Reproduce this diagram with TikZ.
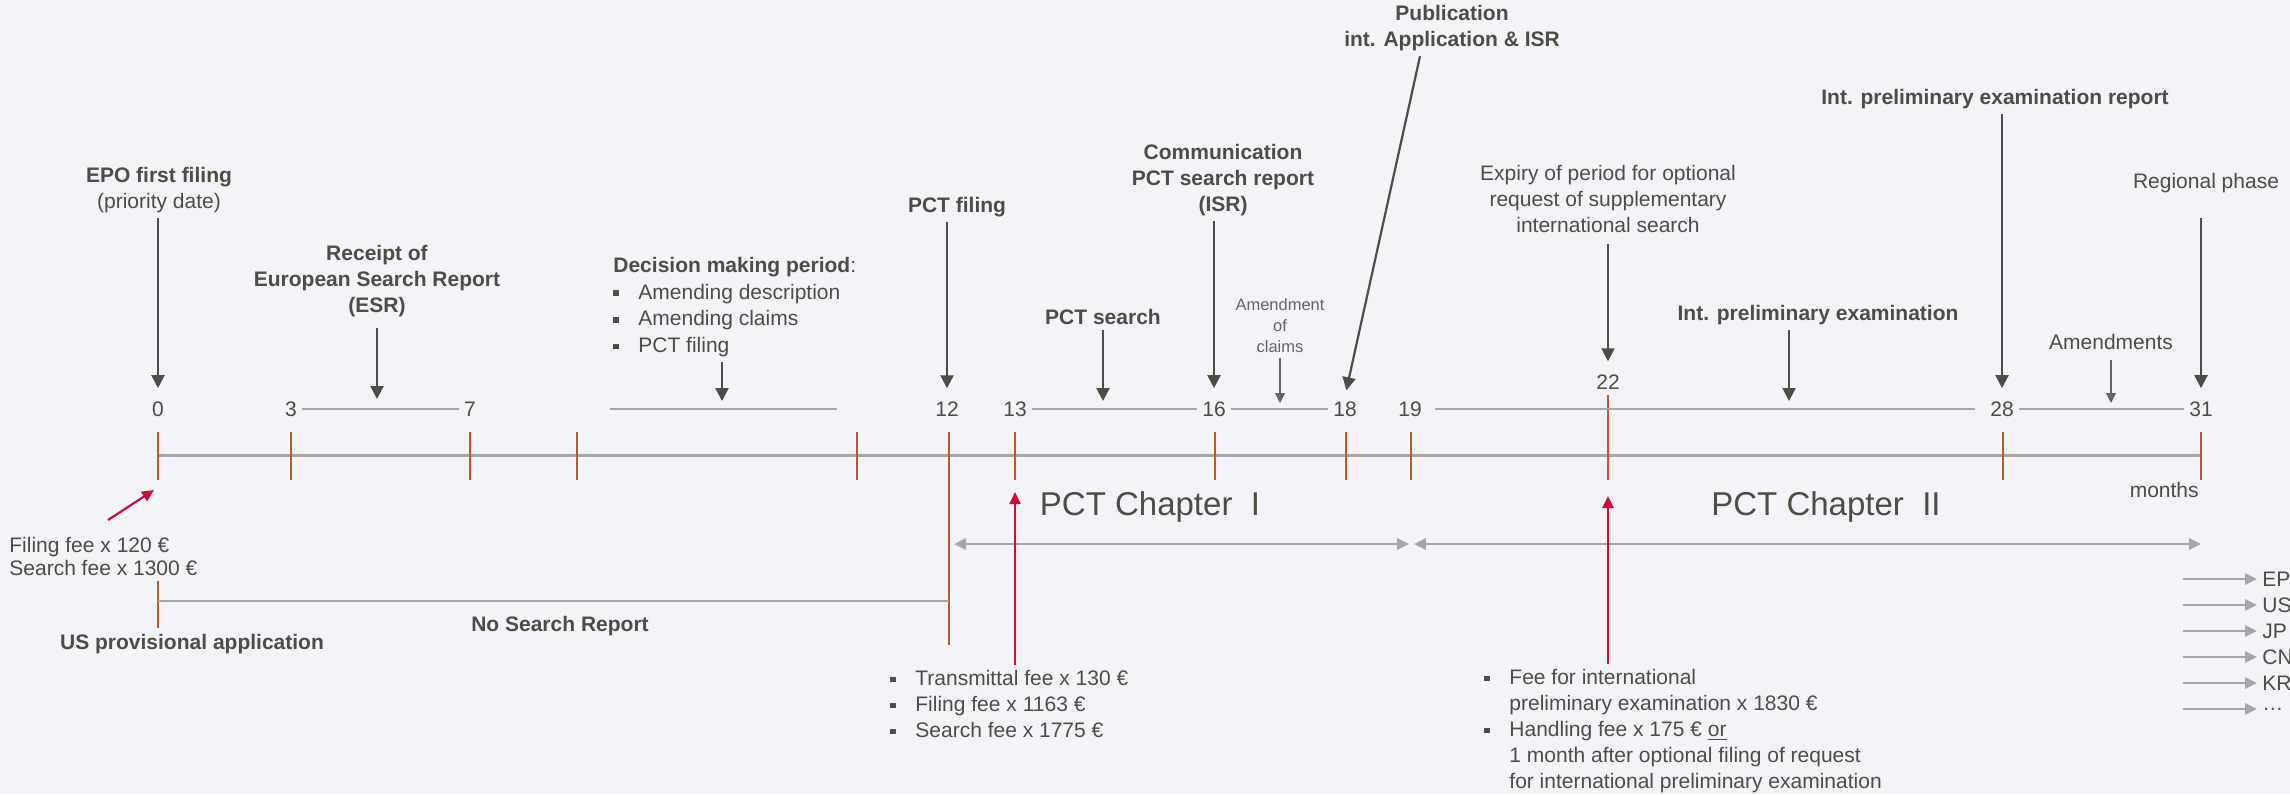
\documentclass[tikz,border=0pt]{standalone}
\usepackage{fontspec}
\setmainfont{Liberation Sans}
\usetikzlibrary{arrows.meta}
\definecolor{bgc}{HTML}{F3F4F8}
\definecolor{txtc}{HTML}{4F4B45}
\definecolor{lightc}{HTML}{646464}
\definecolor{linec}{HTML}{A6A6A6}
\definecolor{tickc}{HTML}{C0592A}
\definecolor{feec}{HTML}{D20A3C}
\newcommand{\sq}{\rule[1.6pt]{2.8pt}{2.8pt}\hspace{9.7pt}}
\newcommand{\ind}{\hspace*{12.5pt}}
\tikzset{
  axisln/.style={linec, line width=1.5pt},
  mtick/.style={tickc, line width=0.9pt},
  period/.style={linec, line width=1.3pt},
  evt/.style={txtc, line width=1.1pt, -{Triangle[length=6.5pt,width=6.5pt]}},
  evtsm/.style={lightc, line width=0.6pt, -{Triangle[length=5pt,width=5pt]}},
  feearr/.style={feec, line width=1.1pt, -{Triangle[length=6pt,width=5.5pt]}},
  chap/.style={linec, line width=1.4pt, {Triangle[length=6pt,width=5.5pt]}-{Triangle[length=6pt,width=5.5pt]}},
  ctry/.style={linec, line width=1.4pt, -{Triangle[length=6pt,width=5.5pt]}},
  txt/.style={text=txtc, font=\fontsize{10.5}{13}\selectfont, inner sep=2.5pt},
  lbl/.style={txt, font=\fontsize{10.5}{13}\selectfont\bfseries, align=center},
  num/.style={txt},
  small/.style={text=lightc, font=\fontsize{8.25}{10.5}\selectfont, align=center, inner sep=2.5pt},
}
\begin{document}
\begin{tikzpicture}[x=0.5pt,y=-0.5pt]
\useasboundingbox (0,0) rectangle (2290,794);
\fill[bgc] (0,0) rectangle (2290,794);
\clip (0,0) rectangle (2290,794);
% time line
\coordinate (a0) at (158,455);
\coordinate (a12) at (949,455);
\coordinate (a13) at (1015,455);
\coordinate (a19) at (1411,455);
\coordinate (a22) at (1608,455);
\coordinate (a31) at (2201,455);
\draw[axisln] (a0) -- (a31);
\draw[mtick] (158,432) -- (158,480) (291,432) -- (291,480) (470,432) -- (470,480)
  (577,432) -- (577,480) (857,432) -- (857,480) (949,432) -- (949,645)
  (1015,432) -- (1015,480) (1215,432) -- (1215,480) (1346,432) -- (1346,480)
  (1411,432) -- (1411,480) (1608,395) -- (1608,480) (2003,432) -- (2003,480)
  (2201,432) -- (2201,480);
%
\node[num] (n0) at (158,409) {0};
\node[num] (n3) at (291,409) {3};
\node[num] (n7) at (470,409) {7};
\node[num] (n12) at (947,409) {12};
\node[num] (n13) at (1015,409) {13};
\node[num] (n16) at (1214,409) {16};
\node[num] (n18) at (1345,409) {18};
\node[num] (n19) at (1410,409) {19};
\node[num] (n22) at (1608,382) {22};
\node[num] (n28) at (2002,409) {28};
\node[num] (n31) at (2201,409) {31};
\draw[period] (n3.east) -- (n7.west);
\draw[period] (n13.east) -- (n16.west);
\draw[period] (n16.east) -- (n18.west);
\draw[period, shorten <=4pt, shorten >=5pt] (n19.east) -- (n28.west);
\draw[period] (n28.east) -- (n31.west);
\coordinate (d1) at (610,409);
\coordinate (d2) at (837,409);
\draw[period] (d1) -- (d2); % decision period
%
\node[lbl] (epo) at (159,190) {EPO first filing\\{\mdseries (priority date)}};
\draw[evt, shorten >=4pt] (epo.south -| n0) -- (n0.north);
\node[lbl] (esr) at (377,281) {Receipt of\\European Search Report\\(ESR)};
\draw[evt, shorten <=3pt, shorten >=5pt] (esr.south) -- (esr.south |- n3.east);
\node[txt, align=left, anchor=west, font=\fontsize{10.5}{13.3}\selectfont] (dec) at (608,307)
  {\textbf{Decision making period}:\\\sq Amending description\\\sq Amending claims\\\sq PCT filing};
\coordinate (dm) at (722,409);
\draw[evt, shorten >=4pt] (dec.south -| dm) -- (dm);
\node[lbl] (pctf) at (957,207) {PCT filing};
\draw[evt, shorten >=4pt] (pctf.south -| n12) -- (n12.north);
\node[lbl] (srch) at (1103,317) {PCT search};
\draw[evt, shorten >=4pt] (srch.south) -- (srch.south |- n13.east);
\node[lbl] (isr) at (1223,180) {Communication\\PCT search report\\(ISR)};
\draw[evt, shorten >=4pt] (isr.south -| n16) -- (n16.north);
\node[small] (amc) at (1280,326) {Amendment\\of\\claims};
\draw[evtsm, shorten >=3pt] (amc.south) -- (amc.south |- n16.east);
\node[lbl] (pub) at (1452,28) {Publication\\int. Application \& ISR};
\draw[evt, shorten >=3pt] ([xshift=-16pt]pub.south) -- (n18.north);
\node[txt, align=center] (exp) at (1608,199) {Expiry of period for optional\\request of supplementary\\international search};
\draw[evt, shorten <=3pt, shorten >=4pt] (exp.south) -- (n22.north);
\node[lbl] (ipe) at (1818,315) {Int. preliminary examination};
\coordinate (ipm) at (1789,409);
\draw[evt, shorten >=4pt] (ipe.south -| ipm) -- (ipm);
\node[lbl] (iper) at (1995,99) {Int. preliminary examination report};
\draw[evt, shorten >=4pt] (iper.south -| n28) -- (n28.north);
\node[txt] (amd) at (2111,342) {Amendments};
\draw[evtsm, shorten <=2.5pt, shorten >=3pt] (amd.south) -- (amd.south |- n28.east);
\node[txt] (reg) at (2206,183) {Regional phase};
\draw[evt, shorten <=10pt, shorten >=4pt] (reg.south -| n31) -- (n31.north);
%
\node[txt, anchor=east] (mon) at (2204,490) {months};
\coordinate (chy) at (0,544);
\node[txt, font=\fontsize{16.5}{20}\selectfont] (ch1) at (1150,507) {PCT Chapter\ \ I};
\node[txt, font=\fontsize{16.5}{20}\selectfont] (ch2) at (1826,507) {PCT Chapter\ \ II};
\draw[chap, shorten <=2.5pt, shorten >=1pt] (a12 |- chy) -- (a19 |- chy);
\draw[chap, shorten <=1.5pt] (a19 |- chy) -- (a31 |- chy);
% fees
\node[txt, align=left, anchor=west] (fee0) at (4,556) {Filing fee x 120 €\\[-1.5pt]Search fee x 1300 €};
\coordinate (f0a) at (108,520);
\coordinate (f0b) at (154,490);
\draw[feearr] (f0a) -- (f0b);
\node[txt, align=left, anchor=west] (fee13) at (885,704)
  {\sq Transmittal fee x 130 €\\\sq Filing fee x 1163 €\\\sq Search fee x 1775 €};
\draw[feearr, shorten >=18.5pt] (fee13.north -| a13) -- (a13);
\node[txt, align=left, anchor=west] (fee22) at (1479,731)
  {\sq Fee for international\\\ind preliminary examination x 1830 €\\\sq Handling fee x 175 € \underline{or}\\\ind 1 month after optional filing of request\\\ind for international preliminary examination};
\draw[feearr, shorten >=20.5pt] (fee22.north -| a22) -- (a22);
% US provisional
\coordinate (us1) at (158,581);
\coordinate (us2) at (158,628);
\coordinate (nsa) at (158,601);
\draw[mtick] (us1) -- (us2);
\draw[period] (nsa) -- (nsa -| a12);
\node[lbl] (usp) at (192,644) {US provisional application};
\node[lbl] (nsr) at (560,626) {No Search Report};
% regional phase
\node[txt, anchor=west] (cEP) at (2257,579) {EP};
\node[txt, anchor=west] (cUS) at (2257,605) {US};
\node[txt, anchor=west] (cJP) at (2257,631) {JP};
\node[txt, anchor=west] (cCN) at (2257,657) {CN};
\node[txt, anchor=west] (cKR) at (2257,683) {KR};
\node[txt, anchor=west] (cMore) at (2257,709) {…};
\draw[ctry] ([xshift=-37pt]cEP.west) -- (cEP.west);
\draw[ctry] ([xshift=-37pt]cUS.west) -- (cUS.west);
\draw[ctry] ([xshift=-37pt]cJP.west) -- (cJP.west);
\draw[ctry] ([xshift=-37pt]cCN.west) -- (cCN.west);
\draw[ctry] ([xshift=-37pt]cKR.west) -- (cKR.west);
\draw[ctry] ([xshift=-37pt]cMore.west) -- (cMore.west);
\end{tikzpicture}
\end{document}
